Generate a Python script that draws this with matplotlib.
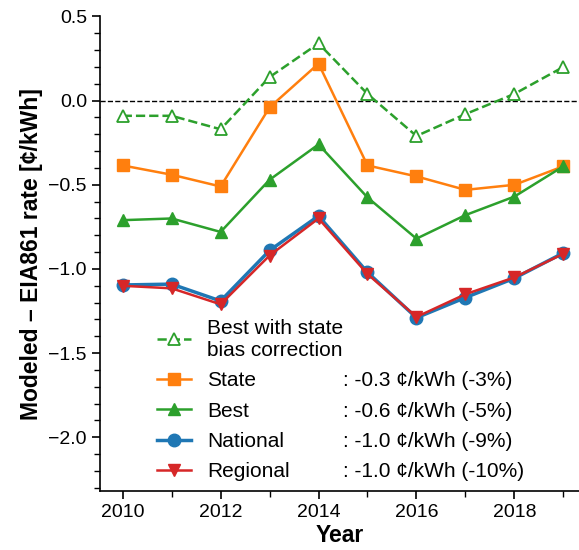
import matplotlib.pyplot as plt
from matplotlib.ticker import MultipleLocator

plt.rcParams['font.family'] = ['Liberation Sans', 'DejaVu Sans']

years = [2010, 2011, 2012, 2013, 2014, 2015, 2016, 2017, 2018, 2019]
best_corr = [-0.09, -0.09, -0.17, 0.14, 0.34, 0.04, -0.21, -0.08, 0.04, 0.20]
state = [-0.385, -0.44, -0.51, -0.04, 0.22, -0.385, -0.45, -0.53, -0.50, -0.39]
best = [-0.71, -0.70, -0.78, -0.47, -0.26, -0.575, -0.82, -0.68, -0.57, -0.39]
national = [-1.095, -1.09, -1.19, -0.89, -0.685, -1.02, -1.29, -1.17, -1.055, -0.905]
regional = [-1.10, -1.115, -1.21, -0.92, -0.70, -1.03, -1.285, -1.15, -1.05, -0.91]

labels = ['Best with state\nbias correction', 'State', 'Best', 'National', 'Regional']
stats = ['', ': -0.3 ¢/kWh (-3%)', ': -0.6 ¢/kWh (-5%)',
         ': -1.0 ¢/kWh (-9%)', ': -1.0 ¢/kWh (-10%)']

fig = plt.figure(figsize=(5.79, 5.5), dpi=100)
ax = fig.add_axes([0.173, 0.107, 0.827, 0.863])

ax.axhline(0, color='black', ls='--', lw=1)
ax.plot(years, best_corr, ls='--', marker='^', mfc='white', color='#2ca02c',
        lw=1.8, ms=9, mew=1.3, label=labels[0])
ax.plot(years, state, marker='s', color='#ff7f0e', lw=1.8, ms=9, label=labels[1])
ax.plot(years, best, marker='^', color='#2ca02c', lw=1.8, ms=9, label=labels[2])
ax.plot(years, national, marker='o', color='#1f77b4', lw=2.5, ms=9, label=labels[3])
ax.plot(years, regional, marker='v', color='#d62728', lw=1.8, ms=9, label=labels[4])

ax.set_xlim(2009.54, 2019.32)
ax.set_ylim(-2.32, 0.5)
ax.xaxis.set_major_locator(MultipleLocator(2))
ax.xaxis.set_minor_locator(MultipleLocator(1))
ax.yaxis.set_major_locator(MultipleLocator(0.5))
ax.yaxis.set_minor_locator(MultipleLocator(0.1))
ax.tick_params(labelsize=14, width=1.2, length=6)
ax.tick_params(which='minor', width=1, length=4)
for s in ['top', 'right']:
    ax.spines[s].set_visible(False)
for s in ['left', 'bottom']:
    ax.spines[s].set_linewidth(1.2)

ax.set_xlabel('Year', fontsize=16.5, fontweight='bold', labelpad=2)
ax.set_ylabel('Modeled – EIA861 rate [¢/kWh]', fontsize=16.5, fontweight='bold')

leg = ax.legend(loc='lower left', bbox_to_anchor=(0.08, -0.019), frameon=False,
                fontsize=15, labelspacing=0.55, handlelength=1.6, handletextpad=0.8)

fig.canvas.draw()
inv = fig.transFigure.inverted()
for t, s in zip(leg.get_texts(), stats):
    if not s:
        continue
    bb = t.get_window_extent()
    y = inv.transform(((bb.x0 + bb.x1) / 2, (bb.y0 + bb.y1) / 2))[1]
    fig.text(343 / 579, y, s, fontsize=15, va='center', ha='left')

fig.savefig('out.png', dpi=100)
